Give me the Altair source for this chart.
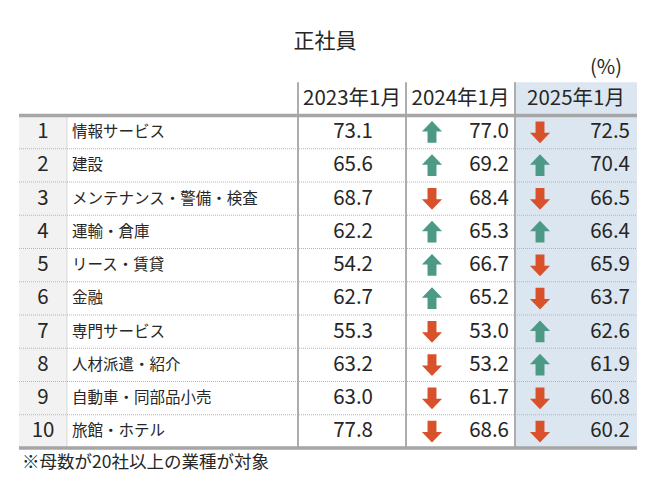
import altair as alt
import pandas as pd

# ---- data ----
ranks = list(range(1, 11))
industries = ["情報サービス", "建設", "メンテナンス・警備・検査", "運輸・倉庫", "リース・賃貸",
              "金融", "専門サービス", "人材派遣・紹介", "自動車・同部品小売", "旅館・ホテル"]
v2023 = [73.1, 65.6, 68.7, 62.2, 54.2, 62.7, 55.3, 63.2, 63.0, 77.8]
v2024 = [77.0, 69.2, 68.4, 65.3, 66.7, 65.2, 53.0, 53.2, 61.7, 68.6]
v2025 = [72.5, 70.4, 66.5, 66.4, 65.9, 63.7, 62.6, 61.9, 60.8, 60.2]
dir2024 = ["up", "up", "down", "up", "up", "up", "down", "down", "down", "down"]
dir2025 = ["down", "up", "down", "up", "down", "down", "up", "up", "down", "down"]
headers = ["2023年1月", "2024年1月", "2025年1月"]
title_text = "正社員"
unit_text = "(%)"
note_text = "※母数が20社以上の業種が対象"

# ---- layout / style ----
FONT = "Noto Sans CJK JP"
TXT = "#262626"
W, H = 647, 469
L, R = 11, 629
X_RANK = 35
X_NAME = 64
X_2023R = 365
X_2024A, X_2024R = 424, 501
X_2025A, X_2025R = 532, 622
HDR_X = [344, 452.5, 568]
VLINES = [290, 398, 507]
VDOT = 59

yscale = alt.Scale(domain=[0.5, 10.5], range=[107.5, 440], nice=False, zero=False)

def Y(field):
    return alt.Y(f"{field}:Q", scale=yscale, axis=None)

df = pd.DataFrame({
    "row": ranks, "rank": [str(r) for r in ranks], "name": industries,
    "v2023": v2023, "v2024": v2024, "v2025": v2025,
    "d2024": dir2024, "d2025": dir2025,
})
df["y0"] = df["row"] - 0.5
df["y1"] = df["row"] + 0.5

hdr = pd.DataFrame({"label": headers, "row": [0, 0, 0]})
frame = pd.DataFrame({"y0": [-0.5], "y1": [10.5]})
body = pd.DataFrame({"y0": [0.5], "y1": [10.5]})
thick = pd.DataFrame({"yb": [0.5, 10.5]})
dots = pd.DataFrame({"yb": [r + 0.5 for r in ranks[:-1]]})
texts = pd.DataFrame({"t": [title_text]})

layers = []

# backgrounds
layers.append(alt.Chart(df).mark_rect(color="#f2f2f2").encode(
    x=alt.value(L), x2=alt.value(VDOT), y=Y("y0"), y2="y1"))
layers.append(alt.Chart(frame).mark_rect(color="#dce6f1").encode(
    x=alt.value(VLINES[2]), x2=alt.value(R), y=Y("y0"), y2="y1"))

# dotted row separators
layers.append(alt.Chart(dots).mark_rule(color="#b4b4b4", strokeDash=[1, 1], strokeWidth=1).encode(
    x=alt.value(L), x2=alt.value(R), y=Y("yb")))
# dotted vertical between rank and name
layers.append(alt.Chart(body).mark_rule(color="#b4b4b4", strokeDash=[1, 1], strokeWidth=1).encode(
    x=alt.value(VDOT), y=Y("y0"), y2="y1"))
# solid vertical column lines
for vx in VLINES:
    layers.append(alt.Chart(frame).mark_rule(color="#adadad", strokeWidth=2).encode(
        x=alt.value(vx), y=Y("y0"), y2="y1"))
# thick horizontal lines
layers.append(alt.Chart(thick).mark_rule(color="#a6a6a6", strokeWidth=3.5).encode(
    x=alt.value(L), x2=alt.value(R), y=Y("yb")))

# header texts
for i, hx in enumerate(HDR_X):
    layers.append(alt.Chart(hdr.iloc[[i]]).mark_text(
        font=FONT, fontSize=20.5, color=TXT, align="center", baseline="middle").encode(
        x=alt.value(hx), y=Y("row"), text="label:N"))

# rank and names
layers.append(alt.Chart(df).mark_text(font=FONT, fontSize=20.5, color=TXT, align="center",
                                      baseline="middle").encode(
    x=alt.value(X_RANK), y=Y("row"), text="rank:N"))
layers.append(alt.Chart(df).mark_text(font=FONT, fontSize=15.5, color=TXT, align="left",
                                      baseline="middle").encode(
    x=alt.value(X_NAME), y=Y("row"), text="name:N"))

# values
for col, xr in [("v2023", X_2023R), ("v2024", X_2024R), ("v2025", X_2025R)]:
    layers.append(alt.Chart(df).mark_text(font=FONT, fontSize=20.5, color=TXT, align="right",
                                          baseline="middle").encode(
        x=alt.value(xr), y=Y("row"), text=alt.Text(f"{col}:Q", format=".1f")))

# arrows
UP = "M0,-1 L0.9,-0.05 L0.4,-0.05 L0.4,0.95 L-0.4,0.95 L-0.4,-0.05 L-0.9,-0.05 Z"
DOWN = "M0,1 L0.9,0.05 L0.4,0.05 L0.4,-0.95 L-0.4,-0.95 L-0.4,0.05 L-0.9,0.05 Z"
shape_scale = alt.Scale(domain=["up", "down"], range=[UP, DOWN])
color_scale = alt.Scale(domain=["up", "down"], range=["#4c9a86", "#d9512b"])
for col, xa in [("d2024", X_2024A), ("d2025", X_2025A)]:
    layers.append(alt.Chart(df).mark_point(filled=True, size=500, opacity=1, strokeWidth=0).encode(
        x=alt.value(xa), y=Y("row"),
        shape=alt.Shape(f"{col}:N", scale=shape_scale, legend=None),
        color=alt.Color(f"{col}:N", scale=color_scale, legend=None)))

# title, unit, footnote
layers.append(alt.Chart(texts).mark_text(font=FONT, fontSize=21, color=TXT, align="center",
                                         baseline="middle", text=title_text).encode(
    x=alt.value(317), y=alt.value(34)))
layers.append(alt.Chart(texts).mark_text(font=FONT, fontSize=20, color=TXT, align="right",
                                         baseline="middle", text=unit_text).encode(
    x=alt.value(614), y=alt.value(60)))
layers.append(alt.Chart(texts).mark_text(font=FONT, fontSize=17.5, color=TXT, align="left",
                                         baseline="middle", text=note_text).encode(
    x=alt.value(14), y=alt.value(455)))

chart = alt.layer(*layers).properties(
    width=W, height=H, autosize=alt.AutoSizeParams(type="none"), padding=0,
    background="white"
).configure_view(stroke=None).resolve_scale(shape="independent", color="independent")

chart.save("out.html", embed_options={"renderer": "svg", "actions": False})
